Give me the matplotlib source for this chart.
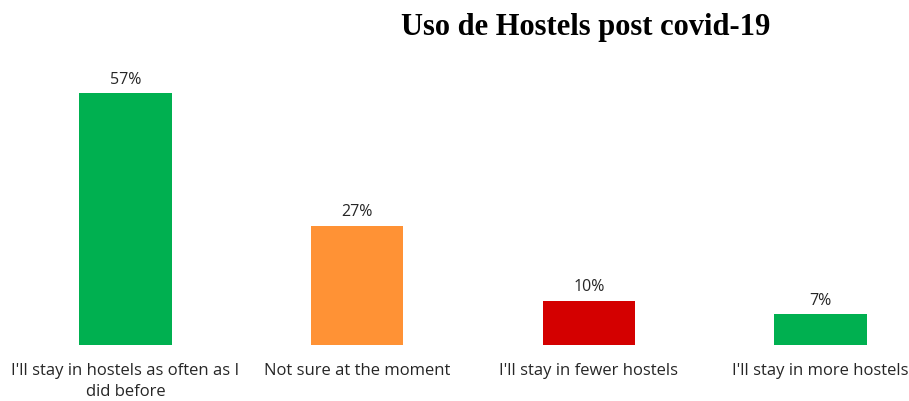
import matplotlib.pyplot as plt

categories = ["I'll stay in hostels as often as I\ndid before", "Not sure at the moment",
              "I'll stay in fewer hostels", "I'll stay in more hostels"]
values = [57, 27, 10, 7]
labels = ["57%", "27%", "10%", "7%"]
colors = ["#00B050", "#FF9235", "#D40000", "#00B050"]

fig = plt.figure(figsize=(9.09, 4.01), dpi=100)
ax = fig.add_axes([0, 56 / 401, 1, 0.8])

x = range(len(values))
bars = ax.bar(x, values, width=0.4, color=colors)
ax.set_xlim(-125.5 / 232, 3 + (909 - 820.5) / 232)
ax.set_ylim(0, 0.8 * 401 / 4.42)

for b, lab in zip(bars, labels):
    ax.annotate(lab, (b.get_x() + b.get_width() / 2, b.get_height()),
                xytext=(0, 4), textcoords="offset points", ha="center", va="bottom",
                fontsize=11.5, family="Open Sans", color="#262626")

ax.set_xticks(list(x))
ax.set_xticklabels(categories, fontsize=12, family="Open Sans", color="#262626",
                   linespacing=1.4)
ax.tick_params(axis="x", length=0, pad=13)
ax.set_yticks([])
for s in ax.spines.values():
    s.set_visible(False)

fig.text(586 / 909, 1 - 27 / 401, "Uso de Hostels post covid-19", ha="center", va="center",
         fontsize=22, fontweight="bold", family="Liberation Serif")

fig.savefig("out.png", dpi=100)
